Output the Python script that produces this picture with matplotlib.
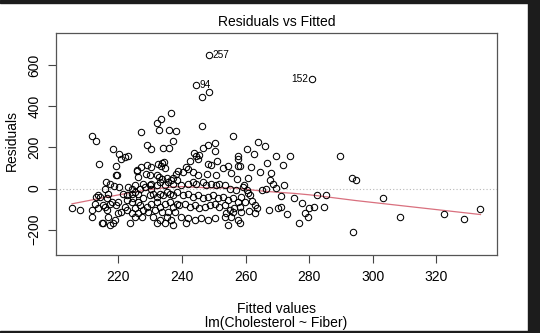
import numpy as np
import matplotlib; matplotlib.use("Agg")
import matplotlib.pyplot as plt
from matplotlib.patches import Rectangle

plt.rcParams["font.family"] = ["Liberation Sans", "DejaVu Sans"]

# fitted values / residuals of lm(Cholesterol ~ Fiber); first three are the flagged obs
fitted = [248.5, 244.4, 280.9,
          248.5, 246.3, 236.6, 233.3, 232.0, 232.8, 235.9, 238.0, 227.1, 237.1,
          246.3, 256.1, 211.6, 213.0, 228.9, 230.2, 234.1, 236.0, 218.4, 220.3,
          222.1, 223.1, 243.7, 244.4, 246.7, 248.1, 250.3, 250.3, 260.3, 262.5,
          263.8, 266.0, 257.7, 269.7, 273.9, 289.7, 258.2, 261.6, 266.8, 271.8,
          268.0, 260.7, 267.6, 268.7, 269.5, 272.1, 265.2, 266.4, 259.5, 260.3,
          260.8, 261.4, 258.7, 261.9, 259.8, 262.9, 263.6, 262.9, 261.1, 258.7,
          258.2, 271.0, 275.2, 277.8, 282.4, 285.2, 267.3, 270.3, 271.3, 273.0,
          278.6, 279.5, 280.0, 281.5, 276.9, 284.8, 293.4, 294.7, 293.8, 303.1,
          308.7, 322.4, 328.6, 333.9, 220.8, 213.9, 219.2, 227.1, 225.7, 229.1,
          230.2, 232.5, 233.8, 234.4, 233.4, 234.8, 238.0, 229.9, 232.0, 219.2,
          245.0, 245.5, 242.6, 241.4, 241.9, 238.8, 248.1, 249.0, 251.1, 252.9,
          254.4, 257.6, 257.6, 247.9, 245.0, 255.3, 219.6, 225.7, 228.6, 226.2,
          232.7, 233.6, 235.2, 236.5, 237.2, 216.1, 217.3, 218.7, 220.3, 215.8,
          216.8, 216.3, 213.6, 214.2, 213.1, 212.6, 211.8, 211.6, 213.6, 215.2,
          217.3, 217.9, 216.3, 215.8, 216.8, 215.2, 218.9, 218.4, 219.9, 219.4,
          222.0, 220.8, 219.9, 222.6, 221.5, 222.6, 224.2, 225.2, 226.2, 223.1,
          224.2, 225.2, 226.8, 227.8, 228.3, 229.9, 230.4, 222.6, 224.2, 224.7,
          226.2, 227.8, 226.8, 225.2, 227.8, 226.2, 228.9, 229.4, 227.3, 225.2,
          224.2, 214.7, 217.3, 223.6, 229.9, 230.9, 232.0, 233.1, 234.1, 235.2,
          236.2, 237.2, 238.3, 230.4, 232.0, 233.1, 234.6, 235.7, 237.2, 238.3,
          230.4, 232.0, 233.1, 234.6, 236.2, 237.2, 238.3, 231.5, 233.6, 235.7,
          237.8, 230.9, 233.1, 235.2, 236.7, 232.0, 234.6, 237.2, 240.3, 243.4,
          250.8, 257.4, 264.4, 239.7, 241.9, 243.4, 244.5, 246.6, 247.6, 249.2,
          250.8, 251.8, 253.4, 255.0, 257.0, 259.2, 240.3, 241.9, 243.4, 245.0,
          246.6, 248.1, 249.7, 251.3, 252.9, 254.4, 256.0, 257.6, 239.2, 240.8,
          242.4, 244.0, 245.5, 247.1, 248.7, 250.3, 251.8, 253.4, 255.0, 256.5,
          258.1, 239.7, 241.9, 244.0, 246.0, 248.1, 250.3, 253.4, 255.5, 257.6,
          241.3, 254.4, 253.9, 256.1, 205.4, 208.0]
resid = [651, 504, 533,
         470, 445, 368, 341, 320, 286, 284, 278, 276, 233,
         303, 257, 255, 231, 211, 192, 198, 199, 193, 166,
         153, 161, 173, 157, 199, 210, 220, 182, 194, 170,
         226, 205, 161, 157, 157, 160, 108, 105, 124, 113,
         78, 51, 40, 24, 3, 15, -5, -3, 16, -8,
         -21, -32, -41, -60, -65, -81, -94, -121, -109, -113,
         -170, -36, -44, -68, -31, -29, -105, -97, -92, -125,
         -118, -138, -97, -92, -166, -92, 51, 40, -212, -45,
         -137, -125, -149, -101, 145, 118, 110, 105, 89, 113,
         105, 118, 124, 129, 108, 102, 71, 68, 64, 68,
         145, 165, 132, 105, 94, 84, 121, 116, 132, 100,
         112, 145, 110, 73, 68, 76, 64, 84, 69, 56,
         56, 48, 53, 44, 53, 32, 24, 11, 8, 0,
         -24, -48, -32, -41, -39, -73, -105, -138, -97, -81,
         -73, -65, -105, -89, -138, -170, -154, -170, -65, -81,
         -89, -113, -121, -105, -24, -32, -24, -16, -28, 8,
         0, 16, 0, 24, 8, 16, 0, -57, -65, -48,
         -65, -48, -81, -97, -105, -121, -89, -113, -138, -138,
         -121, -170, -178, -170, -32, -24, -41, -24, -32, -16,
         -24, -32, -16, 24, 16, 32, 16, 32, 24, 40,
         -73, -65, -89, -73, -65, -89, -73, -105, -113, -113,
         -113, -138, -154, -138, -154, -170, -170, -178, 81, 81,
         64, 48, 81, 16, 24, 32, 24, 32, 16, 24,
         16, 24, 16, 0, -8, 8, -32, -24, -41, -32,
         -48, -41, -32, -48, -41, -57, -48, -65, -81, -73,
         -89, -81, -97, -89, -81, -73, -89, -81, -105, -97,
         -89, -138, -145, -154, -145, -154, -145, -138, -138, -154,
         -170, -178, -121, -113, -95, -105]
flag_ids = ["257", "94", "152"]
flag_side = ["right", "right", "left"]


def lowess(x, y, f=2/3, it=3):
    # plain lowess (local linear, tricube weights, bisquare robustness)
    o = np.argsort(x); x = np.asarray(x, float)[o]; y = np.asarray(y, float)[o]
    n = len(x); r = max(min(int(np.ceil(f * n)), n), 2)
    rob = np.ones(n); yest = np.zeros(n)
    for _ in range(it + 1):
        for i in range(n):
            d = np.abs(x - x[i])
            h = np.sort(d)[r - 1]
            w = np.clip(d / max(h, 1e-9), 0, 1)
            w = (1 - w ** 3) ** 3 * rob
            sw = w.sum(); xm = (w * x).sum() / sw; ym = (w * y).sum() / sw
            b = (w * (x - xm) ** 2).sum()
            slope = (w * (x - xm) * (y - ym)).sum() / b if b > 1e-9 else 0.0
            yest[i] = ym + slope * (x[i] - xm)
        e = y - yest; s = np.median(np.abs(e))
        u = np.clip(e / (6 * s), -1, 1); rob = (1 - u ** 2) ** 2
    return x, yest


fig = plt.figure(figsize=(5.40, 3.33), dpi=100)
ax = fig.add_axes([0.1033, 0.2339, 0.8171, 0.6679])

ax.axhline(0, color="#b8b8b8", lw=0.8, ls=(0, (1, 2)), zorder=1)
ax.plot(fitted, resid, "o", mfc="none", mec="black", ms=4.6, mew=0.75, zorder=3)
sx, sy = lowess(fitted, resid)
ax.plot(sx, sy, color="#d9707e", lw=0.9, zorder=2)

for i, lab in enumerate(flag_ids):
    if flag_side[i] == "right":
        ax.annotate(lab, (fitted[i], resid[i]), xytext=(2.5, 0), textcoords="offset points",
                    ha="left", va="center", fontsize=7.3)
    else:
        ax.annotate(lab, (fitted[i], resid[i]), xytext=(-2.5, 0), textcoords="offset points",
                    ha="right", va="center", fontsize=7.3)

ax.set_xlim(200.3, 339.1)
ax.set_ylim(-324, 759)
ax.set_xticks([220, 240, 260, 280, 300, 320])
ax.set_yticks([-200, 0, 200, 400, 600])
ax.tick_params(axis="both", length=5.5, width=0.8, color="#444444", labelsize=10, pad=5)
for lbl in ax.get_yticklabels():
    lbl.set_rotation(90); lbl.set_va("center")
for s in ax.spines.values():
    s.set_color("#555555"); s.set_linewidth(0.9)

fig.text(0.5118, 1 - 22.4 / 333, "Residuals vs Fitted", ha="center", va="center", fontsize=10)
fig.text(0.5118, 1 - 309.0 / 333, "Fitted values", ha="center", va="center", fontsize=10)
fig.text(0.5118, 1 - 323.5 / 333, "lm(Cholesterol ~ Fiber)", ha="center", va="center", fontsize=10)
fig.text(11.7 / 540, 1 - 140 / 333, "Residuals", ha="center", va="center", rotation=90, fontsize=10)

# dark frame around the exported window
for (x0, y0, w, h) in [(528 / 540, 0, 12 / 540, 1), (0, 0, 1, 2 / 333), (0, 1 - 3 / 333, 1, 3 / 333)]:
    fig.patches.append(Rectangle((x0, y0), w, h, transform=fig.transFigure, color="#1c1c1c", zorder=10))

fig.savefig("out.png", dpi=100)
